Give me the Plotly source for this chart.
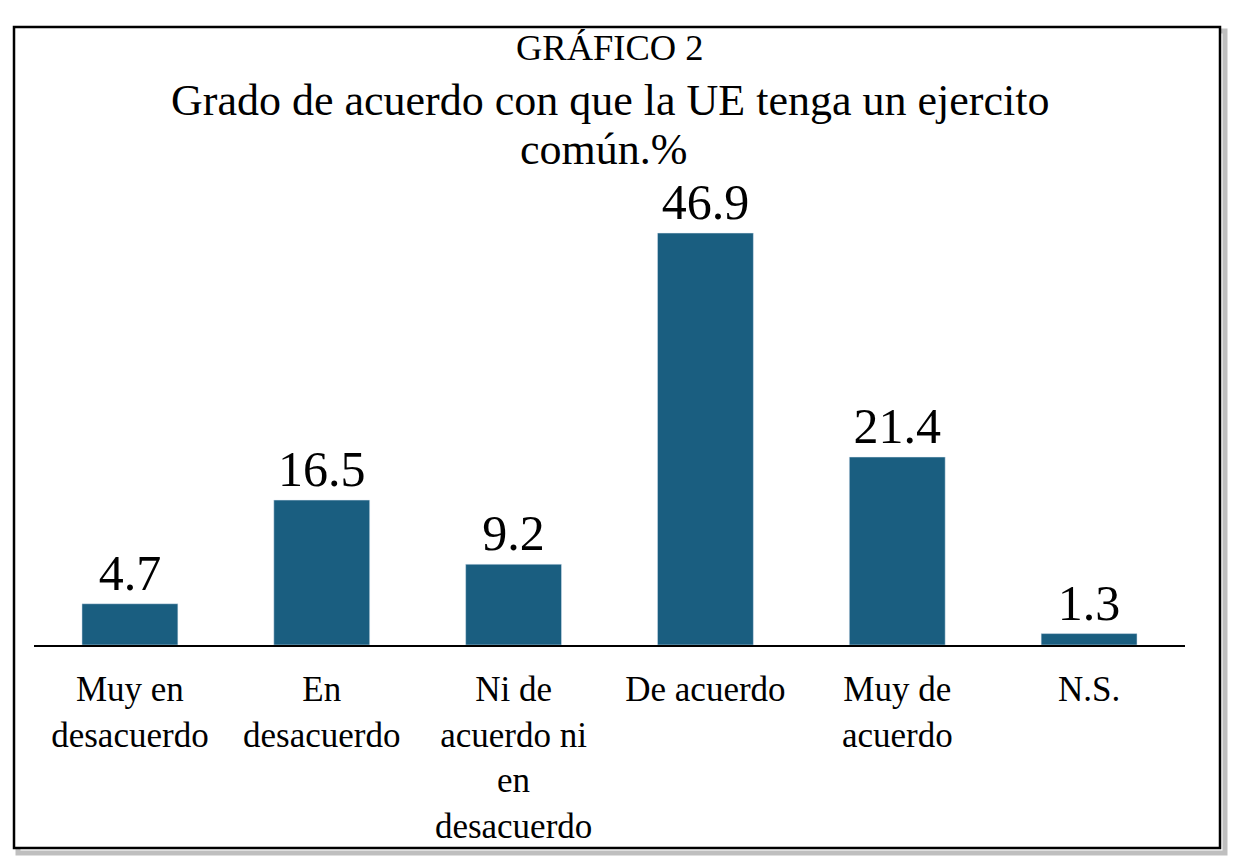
import plotly.graph_objects as go

# Datos del gráfico
categorias = [
    "Muy en<br>desacuerdo",
    "En<br>desacuerdo",
    "Ni de<br>acuerdo ni<br>en<br>desacuerdo",
    "De acuerdo",
    "Muy de<br>acuerdo",
    "N.S.",
]
porcentajes = [4.7, 16.5, 9.2, 46.9, 21.4, 1.3]

color_barra = "#1a5e80"
fuente = "Liberation Serif"

# Zona del gráfico en píxeles (la página añade 8px de margen)
W, H = 1240, 864
m_izq, m_der, m_sup, m_inf = 26, 63, 182, 227
alto_plot = H - m_sup - m_inf
ancho_plot = W - m_izq - m_der


def px_a_paper_y(py):
    return (H - m_inf - py) / alto_plot


def px_a_paper_x(px):
    return (px - m_izq) / ancho_plot


fig = go.Figure(
    go.Bar(
        x=categorias,
        y=porcentajes,
        marker_color=color_barra,
        text=[f"{v:.1f}" for v in porcentajes],
        textposition="outside",
        textfont=dict(family=fuente, size=50, color="black"),
        cliponaxis=False,
    )
)

fig.update_layout(
    width=W,
    height=H,
    margin=dict(l=m_izq, r=m_der, t=m_sup, b=m_inf),
    paper_bgcolor="white",
    plot_bgcolor="white",
    bargap=0.5,
    showlegend=False,
    font=dict(family=fuente, color="black"),
    xaxis=dict(
        showline=True,
        linecolor="black",
        linewidth=2,
        ticks="",
        tickfont=dict(family=fuente, size=35, color="black"),
        ticklabelstandoff=12,
    ),
    yaxis=dict(
        range=[0, 51.8],
        visible=False,
    ),
)

# Títulos
fig.add_annotation(
    text="GRÁFICO 2", xref="paper", yref="paper",
    x=0.5, y=px_a_paper_y(39), yanchor="middle", showarrow=False,
    font=dict(family=fuente, size=36.5, color="black"),
)
fig.add_annotation(
    text="Grado de acuerdo con que la UE tenga un ejercito", xref="paper", yref="paper",
    x=0.5, y=px_a_paper_y(92), yanchor="middle", showarrow=False,
    font=dict(family=fuente, size=44, color="black"),
)
fig.add_annotation(
    text="común.%", xref="paper", yref="paper",
    x=0.495, y=px_a_paper_y(141), yanchor="middle", showarrow=False,
    font=dict(family=fuente, size=44, color="black"),
)

# Marco con sombra
fig.add_shape(
    type="rect", xref="paper", yref="paper",
    x0=px_a_paper_x(10), x1=px_a_paper_x(1217),
    y0=px_a_paper_y(845), y1=px_a_paper_y(23),
    line=dict(color="rgba(0,0,0,0.25)", width=5), layer="below",
)
fig.add_shape(
    type="rect", xref="paper", yref="paper",
    x0=px_a_paper_x(6), x1=px_a_paper_x(1212),
    y0=px_a_paper_y(840), y1=px_a_paper_y(19),
    line=dict(color="black", width=2.5), fillcolor="white", layer="below",
)

fig.write_html("out.html")
